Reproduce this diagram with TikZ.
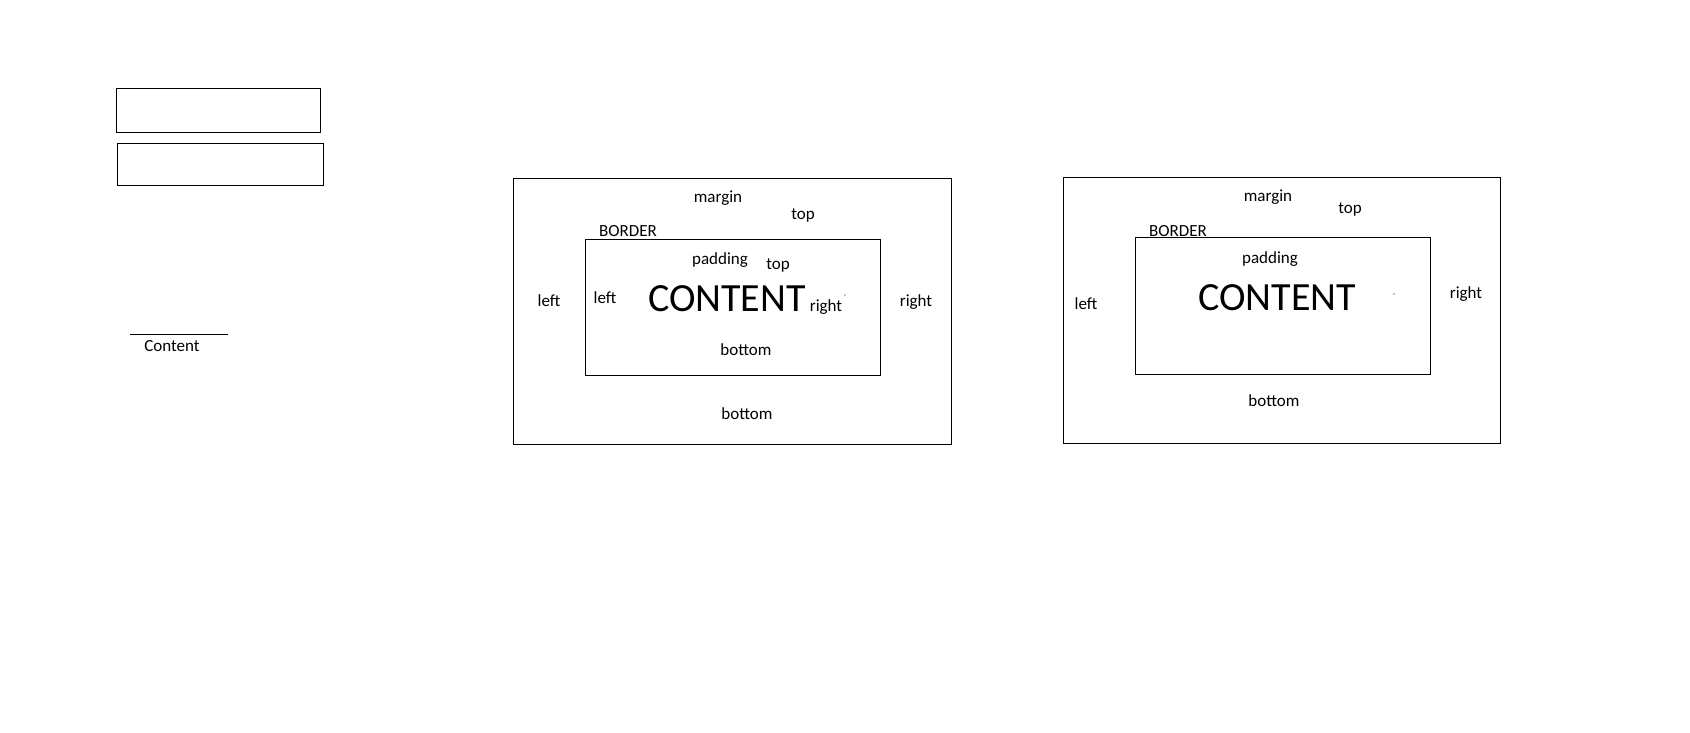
\documentclass[tikz,border=0pt]{standalone}
\usepackage{fontspec}
\setmainfont{Carlito}
\begin{document}
\begin{tikzpicture}[x=1pt,y=-1pt,
  box/.style={draw=black,line width=1pt},
  lbl/.style={inner sep=0pt,anchor=center,font=\fontsize{17}{19}\selectfont},
  big/.style={inner sep=0pt,anchor=center,font=\fontsize{40}{44}\selectfont}]
\useasboundingbox (0,0) rectangle (1690,732);
% top-left boxes
\coordinate (b1a) at (116,88); \coordinate (b1b) at (320,132);
\draw[box] (b1a) rectangle (b1b);
\coordinate (b2a) at (117,143); \coordinate (b2b) at (323,185);
\draw[box] (b2a) rectangle (b2b);
% content line
\coordinate (la) at (130,334); \coordinate (lb) at (228,334);
\draw[line width=1pt] (la) -- (lb);
\node[lbl] (ctext) at (172,346) {Content};
% left diagram
\coordinate (o1a) at (513,178); \coordinate (o1b) at (951,444);
\draw[box] (o1a) rectangle (o1b);
\coordinate (i1a) at (585,239); \coordinate (i1b) at (880,375);
\draw[box] (i1a) rectangle (i1b);
\node[lbl] (m1) at (718,198) {margin};
\node[lbl] (mt1) at (803,215) {top};
\node[lbl] (bd1) at (628,231) {BORDER};
\node[lbl] (p1) at (720,260) {padding};
\node[lbl] (pt1) at (778,265) {top};
\node[lbl] (ml1) at (549,301) {left};
\node[lbl] (pl1) at (605,298) {left};
\node[big] (c1) at (727,299) {CONTENT};
\node[lbl] (pr1) at (826,307) {right};
\node[lbl] (mr1) at (916,302) {right};
\node[lbl] (pb1) at (746,350) {bottom};
\node[lbl] (mb1) at (747,414) {bottom};
\fill (845,295) circle (0.7);
% right diagram
\coordinate (o2a) at (1063,177); \coordinate (o2b) at (1500,443);
\draw[box] (o2a) rectangle (o2b);
\coordinate (i2a) at (1135,237); \coordinate (i2b) at (1430,374);
\draw[box] (i2a) rectangle (i2b);
\node[lbl] (m2) at (1268,197) {margin};
\node[lbl] (mt2) at (1350,209) {top};
\node[lbl] (bd2) at (1178,231) {BORDER};
\node[lbl] (p2) at (1270,259) {padding};
\node[lbl] (ml2) at (1086,304) {left};
\node[big] (c2) at (1277,298) {CONTENT};
\node[lbl] (mr2) at (1466,294) {right};
\node[lbl] (mb2) at (1274,401) {bottom};
\fill (1394,294) circle (0.7);
\end{tikzpicture}
\end{document}
